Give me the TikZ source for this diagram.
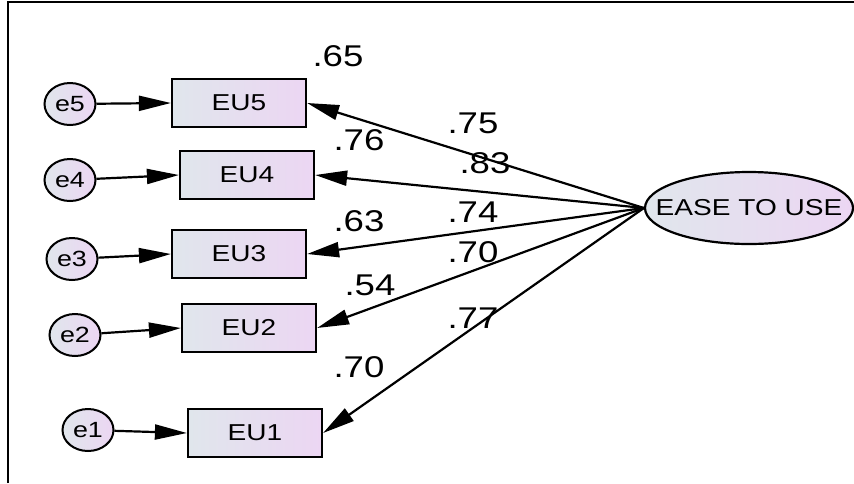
\documentclass[tikz,border=0pt]{standalone}
\usepackage{fontspec}
\setmainfont[FakeStretch=1.22]{Liberation Sans}
\usetikzlibrary{arrows.meta,shapes.geometric}
\definecolor{shL}{RGB}{224,230,236}
\definecolor{shR}{RGB}{236,214,243}
\begin{document}
\begin{tikzpicture}[x=1pt,y=-1pt,
 obs/.style={draw,line width=2.2pt,minimum width=134pt,minimum height=48pt,left color=shL,right color=shR,font=\fontsize{23}{26}\selectfont,inner sep=0pt},
 err/.style={draw,ellipse,line width=2pt,minimum width=51pt,minimum height=42pt,left color=shL,right color=shR,font=\fontsize{22}{24}\selectfont,inner sep=0pt},
 lat/.style={draw,ellipse,line width=2.2pt,minimum width=208pt,minimum height=72pt,left color=shL,right color=shR,inner sep=0pt},
 lattext/.style={font=\fontsize{23}{26}\selectfont,inner sep=0pt},
 arr/.style={line width=2.2pt,-{Triangle[length=32pt,width=15pt]}},
 val/.style={font=\fontsize{30}{32}\selectfont,inner sep=0pt}]
\useasboundingbox (0,0) rectangle (854,483);
\draw[line width=2pt] (8,483) -- (8,2) -- (854,2);
\node[obs] (EU5) at (239,103) {EU5};
\node[obs] (EU4) at (247,175) {EU4};
\node[obs] (EU3) at (239,254) {EU3};
\node[obs] (EU2) at (249,328) {EU2};
\node[obs] (EU1) at (255,433) {EU1};
\node[err] (e5) at (70,104) {e5};
\node[err] (e4) at (70,180) {e4};
\node[err] (e3) at (72,259) {e3};
\node[err] (e2) at (75,335) {e2};
\node[err] (e1) at (88,430) {e1};
\node[lat] (EASE) at (749,208) {};
\node[lattext] (EASEt) at (EASE.center) {EASE TO USE};
\foreach \i in {1,...,5}{\draw[arr] (e\i) -- (EU\i.west);}
\foreach \i in {1,...,5}{\draw[arr] (EASE.west) -- (EU\i.east);}
\node[val] (r5) at (338,56) {.65};
\node[val] (r4) at (359,140) {.76};
\node[val] (r3) at (359,221) {.63};
\node[val] (r2) at (370,285) {.54};
\node[val] (r1) at (359,367) {.70};
\node[val] (l5) at (473,123) {.75};
\node[val] (l4) at (485,163) {.83};
\node[val] (l3) at (473,212) {.74};
\node[val] (l2) at (473,252) {.70};
\node[val] (l1) at (473,318) {.77};
\end{tikzpicture}
\end{document}
